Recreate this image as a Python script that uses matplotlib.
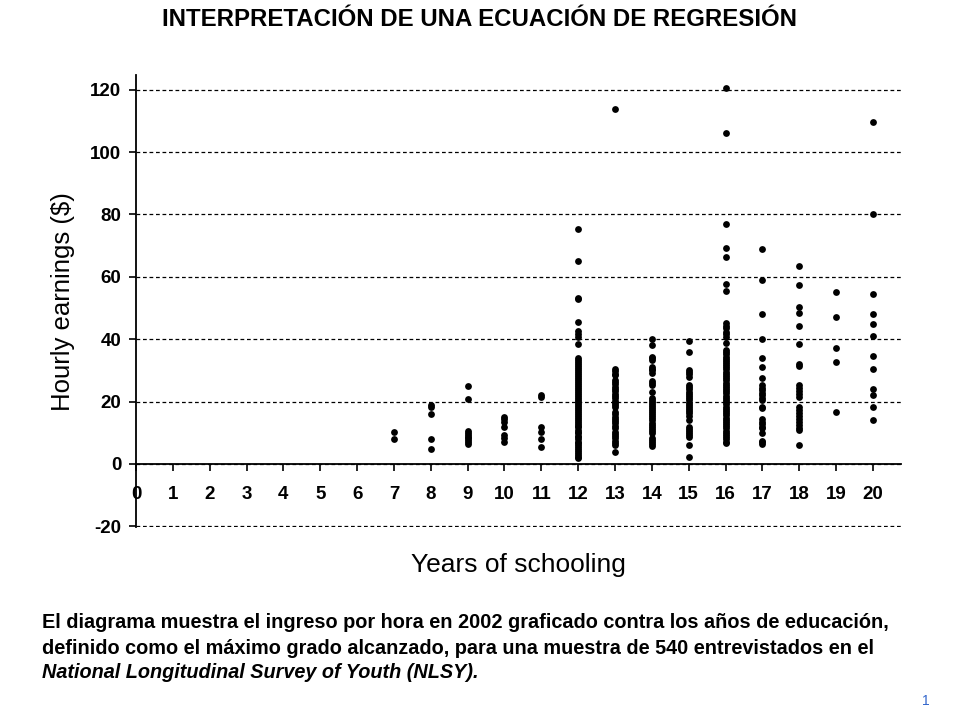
import matplotlib
matplotlib.use("Agg")
import matplotlib.pyplot as plt

plt.rcParams['font.family'] = ['Liberation Sans', 'DejaVu Sans']
plt.rcParams['axes.unicode_minus'] = False

# years of schooling and the hourly earnings
years = [7, 8, 9, 10, 11, 12, 13, 14, 15, 16, 17, 18, 19, 20]

earn7 = [10.3, 8.0]
earn8 = [18.9, 18.2, 16.0, 8.0, 4.8]
earn9 = [25.0, 20.8, 10.6, 10.0, 9.4, 8.8, 8.2, 7.6, 7.0, 6.4]
earn10 = [15.2, 14.4, 13.6, 11.9, 9.3, 8.4, 7.2]
earn11 = [22.0, 21.6, 12.0, 10.4, 8.0, 5.6]
earn12 = [75.4, 65.0, 53.3, 52.8, 45.5, 42.5, 41.6, 40.8, 38.6,
          33.9, 33.2, 32.6, 31.9, 31.3, 30.7, 30.0, 29.4, 28.8, 28.1, 27.5,
          26.9, 26.2, 25.6, 25.0, 24.3, 23.7, 23.1, 22.4, 21.8, 21.2, 20.5,
          19.9, 19.3, 18.6, 18.0, 17.4, 16.7, 16.1, 15.5, 14.8, 14.2, 13.6,
          12.9, 12.3, 11.7, 11.0, 10.4, 9.8, 9.1, 8.5, 7.9, 7.2, 6.6, 6.0,
          5.3, 4.7, 4.1, 3.4, 2.8, 2.2, 1.8]
earn13 = [113.8, 30.5, 29.8, 29.0, 28.4, 27.0, 26.3, 25.5, 24.8, 24.0, 23.3,
          22.5, 21.8, 21.0, 20.3, 19.6, 18.9, 18.3, 16.7, 16.0, 15.2, 14.5,
          13.8, 13.0, 12.3, 11.5, 10.3, 9.6, 8.9, 8.2, 7.5, 6.8, 6.1, 3.8]
earn14 = [40.0, 38.1, 34.4, 33.9, 33.3, 31.2, 30.6, 30.0, 29.3, 26.6, 26.0,
          25.3, 23.2, 21.3, 20.6, 20.0, 19.3, 18.6, 18.0, 17.3, 16.6, 16.0,
          15.3, 14.6, 14.0, 13.1, 12.5, 11.8, 11.2, 10.5, 9.9, 8.3, 7.7, 7.0,
          6.4, 5.7]
earn15 = [39.3, 35.8, 30.1, 29.4, 28.7, 28.0, 25.3, 24.6, 23.9, 23.2, 22.5,
          21.8, 21.1, 20.4, 19.7, 19.0, 18.3, 17.6, 16.9, 16.2, 15.5, 14.1,
          12.0, 11.3, 10.6, 9.9, 9.2, 8.5, 6.1, 2.3]
earn16 = [120.4, 106.0, 76.8, 69.2, 66.3, 57.8, 55.5, 45.1, 44.3, 43.5, 42.4,
          41.6, 40.8, 38.7, 36.5, 35.8, 35.1, 34.4, 33.7, 33.0, 32.4, 31.7,
          31.0, 30.3, 29.6, 28.9, 28.2, 27.5, 26.8, 26.1, 25.4, 24.7, 24.0,
          23.3, 22.6, 21.9, 21.2, 20.5, 19.8, 19.1, 18.4, 17.7, 17.0, 16.3,
          15.6, 14.9, 14.2, 13.5, 12.8, 12.1, 11.4, 10.7, 10.0, 9.3, 8.6,
          7.9, 7.2, 6.7]
earn17 = [68.9, 59.0, 48.1, 40.1, 33.9, 31.2, 27.5, 25.3, 24.5, 23.7, 22.9,
          22.0, 21.2, 20.5, 18.4, 17.9, 14.3, 13.5, 12.7, 11.9, 11.4, 9.8,
          7.5, 7.0, 6.3]
earn18 = [63.6, 57.4, 50.3, 48.3, 44.2, 38.4, 32.2, 31.3, 25.2, 24.3, 23.3,
          22.4, 21.5, 18.2, 17.2, 16.3, 15.4, 14.5, 13.5, 12.5, 11.5, 10.8, 6.2]
earn19 = [55.0, 47.0, 37.3, 32.6, 16.8]
earn20 = [109.7, 80.0, 54.4, 48.0, 44.8, 41.0, 34.6, 30.3, 23.9, 22.1, 18.4, 14.1]

earnings = [earn7, earn8, earn9, earn10, earn11, earn12, earn13, earn14,
            earn15, earn16, earn17, earn18, earn19, earn20]

xticks = list(range(0, 21))
yticks = [-20, 0, 20, 40, 60, 80, 100, 120]

title = "INTERPRETACIÓN DE UNA ECUACIÓN DE REGRESIÓN"
xlabel = "Years of schooling"
ylabel = "Hourly earnings ($)"

xs = []
ys = []
for yr, vals in zip(years, earnings):
    for v in vals:
        xs.append(yr)
        ys.append(v)

fig = plt.figure(figsize=(9.6, 7.2), dpi=100)
ax = fig.add_axes([136/960, 1-527.3/720, 765/960, 452.3/720])

ax.plot(xs, ys, 'o', color='black', markersize=4.9, markeredgewidth=0, zorder=3)

ax.set_xlim(0, 20.76)
ax.set_ylim(-20.3, 124.7)
ax.set_xticks(xticks)
ax.set_yticks(yticks)

ax.spines['top'].set_visible(False)
ax.spines['right'].set_visible(False)
ax.spines['bottom'].set_position(('data', 0))
ax.spines['bottom'].set_linewidth(1.3)
ax.spines['left'].set_linewidth(1.3)

ax.yaxis.grid(True, color='black', linestyle=(0, (3, 2.2)), linewidth=0.9)
ax.set_axisbelow(True)

ax.tick_params(axis='x', direction='out', length=5, width=1.2, pad=11,
               labelsize=13.5)
ax.tick_params(axis='y', direction='out', length=5, width=1.2, pad=5.5,
               labelsize=13.5)
for lab in ax.get_xticklabels() + ax.get_yticklabels():
    lab.set_fontweight('bold')

fig.text(0.5, 1-20/720, title, ha='center', va='center', fontsize=17.3,
         fontweight='bold')
fig.text(518.5/960, 1-565/720, xlabel, ha='center', va='center', fontsize=19)
fig.text(63/960, 1-302/720, ylabel, ha='center', va='center', fontsize=18.5,
         rotation=90)

body = [
    "El diagrama muestra el ingreso por hora en 2002 graficado contra los años de educación,",
    "definido como el máximo grado alcanzado, para una muestra de 540 entrevistados en el",
    "National Longitudinal Survey of Youth (NLSY).",
]
for i, line in enumerate(body):
    fig.text(42/960, 1-(623+25*i)/720, line, ha='left', va='center',
             fontsize=14.3, fontweight='bold',
             style='italic' if i == 2 else 'normal')
fig.text(926/960, 1-701/720, "1", ha='center', va='center', fontsize=10,
         color='#3366cc')

fig.savefig("out.png", dpi=100)
